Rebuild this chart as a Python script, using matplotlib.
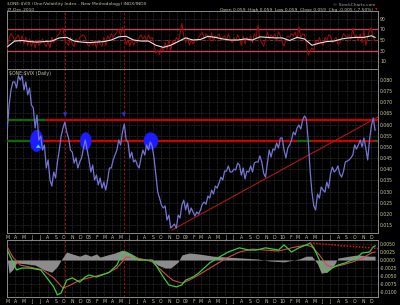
import numpy as np
import matplotlib
matplotlib.use("Agg")
import matplotlib.pyplot as plt
import matplotlib.dates as mdates
from matplotlib.patches import Ellipse
from matplotlib.ticker import FuncFormatter, MultipleLocator

# weekly closes of $ONE:$VIX, first week of Mar 2007 to late Dec 2010
ratio = [
    0.0576, 0.0688, 0.0755, 0.0791, 0.0791, 0.0764, 0.0818, 0.0800, 0.0818, 0.0755,
    0.0791, 0.0733, 0.0764, 0.0688, 0.0675, 0.0585, 0.0643, 0.0531, 0.0549, 0.0486,
    0.0509, 0.0406, 0.0442, 0.0352, 0.0325, 0.0388, 0.0361, 0.0433, 0.0486, 0.0549,
    0.0585, 0.0612, 0.0567, 0.0540, 0.0486, 0.0477, 0.0428, 0.0451, 0.0406, 0.0433,
    0.0451, 0.0495, 0.0531, 0.0486, 0.0442, 0.0388, 0.0419, 0.0352, 0.0374, 0.0330,
    0.0361, 0.0316, 0.0343, 0.0307, 0.0352, 0.0406, 0.0406, 0.0442, 0.0464, 0.0486,
    0.0531, 0.0509, 0.0567, 0.0603, 0.0531, 0.0522, 0.0451, 0.0477, 0.0433, 0.0442,
    0.0419, 0.0406, 0.0451, 0.0486, 0.0464, 0.0509, 0.0486, 0.0522, 0.0504, 0.0451,
    0.0374, 0.0298, 0.0271, 0.0240, 0.0227, 0.0236, 0.0173, 0.0195, 0.0137, 0.0146,
    0.0155, 0.0137, 0.0195, 0.0182, 0.0240, 0.0262, 0.0218, 0.0249, 0.0200, 0.0227,
    0.0209, 0.0191, 0.0209, 0.0200, 0.0218, 0.0244, 0.0253, 0.0244, 0.0280, 0.0271,
    0.0307, 0.0289, 0.0325, 0.0316, 0.0339, 0.0365, 0.0352, 0.0392, 0.0392, 0.0415,
    0.0388, 0.0388, 0.0401, 0.0397, 0.0428, 0.0419, 0.0374, 0.0406, 0.0357, 0.0392,
    0.0388, 0.0415, 0.0388, 0.0428, 0.0433, 0.0433, 0.0460, 0.0433, 0.0383, 0.0365,
    0.0424, 0.0486, 0.0455, 0.0491, 0.0486, 0.0518, 0.0495, 0.0540, 0.0540, 0.0486,
    0.0451, 0.0495, 0.0509, 0.0531, 0.0567, 0.0554, 0.0585, 0.0598, 0.0580, 0.0621,
    0.0639, 0.0626, 0.0531, 0.0397, 0.0298, 0.0236, 0.0218, 0.0289, 0.0271, 0.0321,
    0.0307, 0.0298, 0.0343, 0.0316, 0.0379, 0.0410, 0.0388, 0.0397, 0.0415, 0.0379,
    0.0365, 0.0392, 0.0433, 0.0437, 0.0442, 0.0451, 0.0464, 0.0509, 0.0491, 0.0509,
    0.0531, 0.0500, 0.0540, 0.0495, 0.0442, 0.0531, 0.0594, 0.0630, 0.0575,
]

rsi = [
    32, 55, 62, 58, 48, 55, 60, 45, 58, 42,
    55, 40, 52, 38, 48, 35, 50, 40, 45, 52,
    42, 38, 48, 35, 55, 45, 52, 58, 62, 70,
    72, 50, 45, 40, 55, 42, 38, 52, 45, 55,
    58, 60, 55, 42, 38, 45, 40, 48, 35, 50,
    42, 38, 55, 40, 58, 52, 62, 55, 60, 65,
    70, 58, 75, 65, 42, 50, 38, 52, 40, 48,
    45, 55, 60, 52, 58, 48, 60, 52, 55, 40,
    25, 30, 22, 38, 28, 45, 32, 50, 30, 48,
    42, 55, 48, 62, 82, 58, 45, 55, 40, 50,
    42, 52, 48, 55, 60, 65, 52, 62, 58, 50,
    64, 48, 58, 55, 62, 50, 55, 58, 48, 62,
    52, 45, 55, 48, 60, 52, 40, 58, 42, 55,
    50, 58, 45, 62, 55, 78, 52, 45, 38, 50,
    65, 52, 60, 55, 62, 48, 66, 58, 45, 38,
    52, 58, 55, 62, 58, 65, 52, 75, 55, 62,
    60, 42, 21, 28, 35, 30, 48, 42, 55, 45,
    40, 55, 48, 60, 58, 45, 50, 55, 42, 45,
    52, 62, 58, 55, 60, 52, 72, 55, 60, 48,
    62, 45, 68, 40, 55, 70, 73, 55, 48,
]

# smoothed RSI overlay, every 4th week
rsi_ma_wk = list(range(0, 197, 4)) + [198]
rsi_ma = [37, 48, 49, 47, 46, 47, 48, 54, 55, 48, 46, 45, 46, 47, 50, 56, 57,
          50, 48, 48, 40, 36, 40, 47, 54, 50, 51, 57, 55, 52, 50, 50, 52, 50,
          56, 55, 54, 54, 49, 55, 52, 40, 44, 47, 48, 52, 54, 55, 55, 58, 55]

macd_wk = [0, 3, 5, 8, 12, 18, 21, 25, 27, 29, 32, 35, 39, 42, 44, 48, 51, 55,
           59, 62, 64, 67, 71, 75, 78, 80, 84, 87, 91, 94, 96, 100, 103, 109,
           114, 119, 125, 130, 134, 139, 146, 149, 153, 157, 161, 163, 165,
           168, 170, 172, 175, 178, 182, 188, 191, 195, 197, 198]
macd = [0.0031, -0.0006, -0.0031, -0.0025, -0.0025, -0.0031, -0.0053, -0.0084,
        -0.0109, -0.0103, -0.0063, -0.0056, -0.0069, -0.0053, -0.0047, -0.0053,
        -0.0047, -0.0038, -0.0016, 0.0022, 0.0025, 0.0009, 0.0000, 0.0000,
        0.0000, -0.0016, -0.0053, -0.0078, -0.0084, -0.0078, -0.0063, -0.0053,
        -0.0041, -0.0009, 0.0009, 0.0025, 0.0038, 0.0031, 0.0031, 0.0038,
        0.0031, 0.0047, 0.0025, 0.0038, 0.0047, 0.0053, 0.0038, 0.0000,
        -0.0025, -0.0038, -0.0025, -0.0016, -0.0009, 0.0006, 0.0022, 0.0025,
        0.0041, 0.0044]

signal_wk = [0, 3, 7, 12, 19, 25, 30, 34, 39, 46, 54, 59, 64, 70, 75, 78, 84,
             89, 94, 98, 103, 110, 118, 125, 132, 139, 146, 153, 161, 164, 168,
             172, 175, 180, 186, 191, 196, 198]
signal = [0.0041, 0.0009, -0.0016, -0.0022, -0.0031, -0.0056, -0.0088, -0.0078,
          -0.0063, -0.0053, -0.0041, -0.0025, 0.0009, 0.0006, 0.0000, -0.0006,
          -0.0038, -0.0063, -0.0072, -0.0063, -0.0047, -0.0022, 0.0006, 0.0025,
          0.0034, 0.0031, 0.0028, 0.0038, 0.0047, 0.0041, 0.0016, -0.0016,
          -0.0022, -0.0016, -0.0006, 0.0006, 0.0022, 0.0025]

hist_wk = [0, 1, 3, 5, 10, 15, 20, 24, 27, 29, 32, 35, 39, 42, 45, 48, 50, 54,
           58, 62, 66, 71, 75, 78, 81, 85, 88, 92, 94, 98, 103, 111, 119, 127,
           135, 141, 149, 157, 161, 164, 167, 169, 172, 176, 178, 184, 189,
           195, 198]
hist = [0.0, -0.0041, -0.0030, -0.0009, -0.0012, -0.0016, -0.0031, -0.0038,
        -0.0020, 0.0, 0.0025, 0.0019, 0.0012, 0.0019, 0.0012, 0.0019, 0.0009,
        0.0016, 0.0022, 0.0031, 0.0022, 0.0006, 0.0, -0.0003, -0.0016, -0.0025,
        -0.0025, -0.0006, 0.0016, 0.0022, 0.0019, 0.0012, 0.0009, 0.0006,
        0.0003, -0.0003, -0.0006, 0.0003, 0.0012, 0.0012, -0.0012, -0.0041,
        -0.0038, -0.0016, 0.0006, 0.0012, 0.0016, 0.0012, 0.0012]

upper_level = 0.0620
lower_level = 0.0527
marks = ['2007-10-06', '2008-05-14']

start = np.datetime64('2007-03-02')
dates = start + np.arange(len(ratio)) * np.timedelta64(7, 'D')
d = lambda wk: dates[np.array(wk)]
dt = lambda s: mdates.datestr2num(s)

BG = 'black'
TXT = '#c8c8a0'
GRID = '#3a3a3a'

fig = plt.figure(figsize=(4, 3.05), dpi=100, facecolor=BG)
ax_rsi = fig.add_axes([7/400, 1-69/305, 371/400, 58/305])
ax = fig.add_axes([7/400, 1-233/305, 371/400, 164/305])
ax_m = fig.add_axes([7/400, 1-297/305, 371/400, 57/305])

def month_fmt(x, pos):
    t = mdates.num2date(x)
    return t.strftime('%y') if t.month == 1 else 'JFMAMJJASOND'[t.month-1]

for a in (ax_rsi, ax, ax_m):
    a.set_facecolor(BG)
    a.set_xlim(dt('2007-03-01'), dt('2010-12-28'))
    a.xaxis.set_major_locator(mdates.MonthLocator())
    a.xaxis.set_major_formatter(FuncFormatter(month_fmt))
    a.yaxis.tick_right()
    a.tick_params(colors=TXT, labelsize=3.3, length=0, pad=1.5)
    a.grid(True, color=GRID, lw=0.5, ls=(0, (1, 1)))
    for s in a.spines.values():
        s.set_color('#8a8a8a')
        s.set_linewidth(0.7)
    for m in marks:
        a.axvline(dt(m), color='#b01010', lw=0.6, ls=(0, (3, 2)), zorder=2)
ax_rsi.tick_params(labelbottom=False)

# RSI panel
ax_rsi.set_ylim(-5.2, 105.2)
ax_rsi.set_yticks([10, 30, 50, 70, 90])
ax_rsi.axhline(70, color='#c04a4a', lw=1)
ax_rsi.axhline(30, color='#c04a4a', lw=1)
ax_rsi.axhline(50, color='#a03030', lw=0.6, ls=(0, (4, 2, 1, 2)))
ax_rsi.plot(dates, rsi, color='#a00e0e', lw=0.7, zorder=3)
ax_rsi.plot(d(rsi_ma_wk), rsi_ma, color='#e6e6e6', lw=0.8, zorder=4)

# main panel
ax.set_ylim(0.0115, 0.0849)
ax.yaxis.set_major_locator(MultipleLocator(0.005))
ax.yaxis.set_major_formatter(FuncFormatter(lambda v, p: '%.3f' % v))
for lvl in (upper_level, lower_level):
    ax.axhline(lvl, color='#cc0000', lw=1.6, zorder=3)
for lvl, a0, a1 in [(upper_level, '2007-03-01', '2007-07-24'),
                    (lower_level, '2007-03-01', '2007-05-26'),
                    (lower_level, '2010-02-28', '2010-04-16'),
                    (lower_level, '2010-12-22', '2010-12-28')]:
    ax.plot([dt(a0), dt(a1)], [lvl, lvl], color='#0a6a0a', lw=1.6, zorder=3)
ax.plot([dt('2008-11-11'), dt('2010-12-28')], [0.0128, 0.0634],
        color='#b01515', lw=0.8, zorder=3)
for c, w, h in [('2007-06-21', 45, 0.0092), ('2007-12-23', 38, 0.0072),
                ('2008-08-24', 50, 0.0070)]:
    ax.add_patch(Ellipse((dt(c), lower_level), w, h, color='#1c1cff', zorder=4))
ax.plot(dates, ratio, color='#7474d4', lw=0.9, zorder=5)
arrow = dict(arrowstyle='simple,head_length=0.5,head_width=0.7,tail_width=0.35',
             mutation_scale=5, lw=0)
for m in marks:
    ax.annotate('', xy=(dt(m), 0.0626), xytext=(dt(m), 0.0668),
                arrowprops=dict(arrow, color='#2233ee'), zorder=6)
ax.annotate('', xy=(dt('2007-06-27'), 0.0524), xytext=(dt('2007-06-27'), 0.0484),
            arrowprops=dict(arrow, color='#33ddff'), zorder=6)
ax.text(0.005, 0.99, '\\$ONE:\\$VIX (Daily)', transform=ax.transAxes,
        color=TXT, fontsize=3.3, va='top')

# MACD panel
ax_m.set_ylim(-0.01156, 0.00625)
ax_m.yaxis.set_major_locator(MultipleLocator(0.0025))
ax_m.yaxis.set_major_formatter(FuncFormatter(lambda v, p: '%.4f' % v))
ax_m.fill_between(d(hist_wk), 0, hist, color='#8c8c8c', lw=0, zorder=2)
ax_m.plot(d(signal_wk), signal, color='#d04a4a', lw=0.8, zorder=3)
ax_m.plot(d(macd_wk), macd, color='#3ccc3c', lw=0.9, zorder=4)
ax_m.plot([dt('2010-04-16'), dt('2010-12-28')], [0.0053, 0.0036],
          color='#dd1111', lw=1.1, ls=(0, (1, 1)), zorder=5)

# header
fig.text(7/400, 1-4.5/305, '\\$ONE:\\$VIX (One/Volatility Index - New Methodology) INDX/INDX',
         color=TXT, fontsize=3.2, va='center')
fig.text(7/400, 1-10/305, '27-Dec-2010', color=TXT, fontsize=3.2, va='center')
fig.text(375/400, 1-4.5/305, '\u00a9 StockCharts.com', color='#a0a0a0',
         fontsize=3.2, va='center', ha='right')
fig.text(373/400, 1-9.5/305,
         'Open 0.059  High 0.059  Low 0.059  Close 0.059  Chg -0.005 (-7.50%)',
         color=TXT, fontsize=3.2, va='center', ha='right')
fig.text(376/400, 1-9.5/305, '\u25bc', color='#dd1111', fontsize=2.5,
         va='center', ha='center')

fig.savefig('out.png', dpi=100, facecolor=BG)
